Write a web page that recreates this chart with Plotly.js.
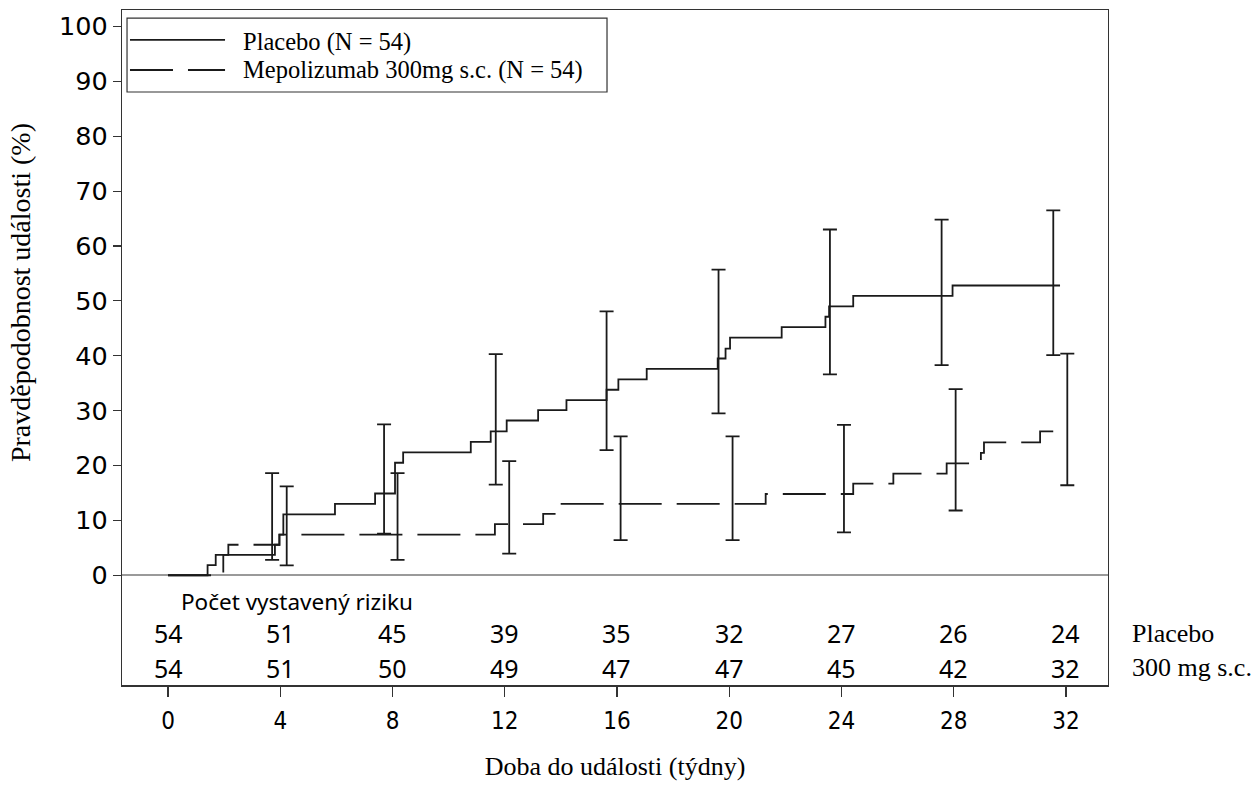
<!DOCTYPE html>
<html>
<head>
<meta charset="utf-8">
<script src="https://cdn.plot.ly/plotly-3.0.1.min.js"></script>
<style>html,body{margin:0;padding:0;background:#fff;}#chart{width:1253px;height:796px;}</style>
</head>
<body>
<div id="chart"></div>
<script>
// Kaplan-Meier style step data (weeks, %)
const placeboTime = [0, 1.41, 1.70, 3.81, 3.97, 4.11, 5.95, 7.38, 8.09, 8.38, 10.79, 11.50, 12.07, 13.19, 14.20, 15.63, 16.05, 17.06, 19.59, 19.87, 20.03, 21.87, 23.43, 23.56, 24.42, 27.96, 31.79];
const placeboProb = [0, 1.85, 3.7, 5.56, 7.4, 11.1, 13.0, 14.9, 20.5, 22.4, 24.3, 26.2, 28.2, 30.1, 31.9, 33.8, 35.7, 37.6, 39.5, 41.3, 43.3, 45.2, 47.1, 49.0, 50.9, 52.8, 52.8];
const mepoTime = [0, 1.97, 2.15, 3.97, 11.65, 13.37, 13.90, 21.30, 24.42, 25.85, 27.75, 28.97, 29.08, 31.08, 31.79];
const mepoProb = [0, 3.7, 5.56, 7.4, 9.3, 11.2, 13.0, 14.8, 16.7, 18.5, 20.4, 22.3, 24.2, 26.2, 26.2];

// Confidence intervals at visits
const placeboCiTime = [3.71, 7.70, 11.68, 15.63, 19.62, 23.59, 27.57, 31.55];
const placeboCiEst  = [3.7, 14.9, 26.2, 33.8, 39.5, 49.0, 50.9, 52.8];
const placeboCiLo   = [2.8, 7.6, 16.5, 22.8, 29.5, 36.6, 38.3, 40.1];
const placeboCiHi   = [18.6, 27.5, 40.3, 48.1, 55.7, 63.0, 64.8, 66.5];
const mepoCiTime = [4.23, 8.18, 12.16, 16.13, 20.12, 24.09, 28.07, 32.05];
const mepoCiEst  = [7.4, 7.4, 9.3, 13.0, 13.0, 14.8, 20.4, 26.2];
const mepoCiLo   = [1.8, 2.8, 3.95, 6.4, 6.4, 7.8, 11.8, 16.4];
const mepoCiHi   = [16.2, 18.6, 20.8, 25.3, 25.3, 27.4, 33.9, 40.4];

// Number at risk
const riskWeeks = [0, 4, 8, 12, 16, 20, 24, 28, 32];
const riskPlacebo = [54, 51, 45, 39, 35, 32, 27, 26, 24];
const riskMepo = [54, 51, 50, 49, 47, 47, 45, 42, 32];

const xTicks = [0, 4, 8, 12, 16, 20, 24, 28, 32];
const yTicks = [0, 10, 20, 30, 40, 50, 60, 70, 80, 90, 100];

const legendLabels = ['Placebo (N = 54)', 'Mepolizumab 300mg s.c. (N = 54)'];
const riskTitle = 'Počet vystavený riziku';
const riskRowLabels = ['Placebo', '300 mg s.c.'];
const xTitle = 'Doba do události (týdny)';
const yTitle = 'Pravděpodobnost události (%)';

const ink = '#1a1a1a';
const serif = 'Liberation Serif, Times New Roman, serif';
const sans = 'Noto Sans, Open Sans, sans-serif';
const dashPat = '43px,15px';

const traces = [
  {x: placeboTime, y: placeboProb, type: 'scatter', mode: 'lines', line: {shape: 'hv', color: ink, width: 1.8}, showlegend: false, hoverinfo: 'skip'},
  {x: mepoTime, y: mepoProb, type: 'scatter', mode: 'lines', line: {shape: 'hv', color: ink, width: 1.8, dash: dashPat}, showlegend: false, hoverinfo: 'skip'},
  {x: placeboCiTime, y: placeboCiEst, type: 'scatter', mode: 'markers', marker: {size: 0, opacity: 0}, showlegend: false, hoverinfo: 'skip',
   error_y: {type: 'data', symmetric: false, array: placeboCiHi.map((v, i) => v - placeboCiEst[i]), arrayminus: placeboCiEst.map((v, i) => v - placeboCiLo[i]), width: 7, thickness: 1.8, color: ink}},
  {x: mepoCiTime, y: mepoCiEst, type: 'scatter', mode: 'markers', marker: {size: 0, opacity: 0}, showlegend: false, hoverinfo: 'skip',
   error_y: {type: 'data', symmetric: false, array: mepoCiHi.map((v, i) => v - mepoCiEst[i]), arrayminus: mepoCiEst.map((v, i) => v - mepoCiLo[i]), width: 7, thickness: 1.8, color: ink}}
];

const annotations = [];
riskWeeks.forEach((w, i) => {
  annotations.push({x: w, y: -10.6, xref: 'x', yref: 'y', text: String(riskPlacebo[i]), showarrow: false, font: {family: sans, size: 25, color: '#000'}, xanchor: 'center', yanchor: 'middle'});
  annotations.push({x: w, y: -16.9, xref: 'x', yref: 'y', text: String(riskMepo[i]), showarrow: false, font: {family: sans, size: 25, color: '#000'}, xanchor: 'center', yanchor: 'middle'});
});
annotations.push({x: 0.40, y: -4.8, xref: 'x', yref: 'y', text: riskTitle, showarrow: false, font: {family: sans, size: 22.5, color: '#000'}, xanchor: 'left', yanchor: 'middle'});
annotations.push({x: 1.0223, y: -10.6, xref: 'paper', yref: 'y', text: riskRowLabels[0], showarrow: false, font: {family: serif, size: 26, color: '#000'}, xanchor: 'left', yanchor: 'middle'});
annotations.push({x: 1.0223, y: -16.9, xref: 'paper', yref: 'y', text: riskRowLabels[1], showarrow: false, font: {family: serif, size: 26, color: '#000'}, xanchor: 'left', yanchor: 'middle'});
// legend texts
annotations.push({x: 0.1207, y: 0.9526, xref: 'paper', yref: 'paper', text: legendLabels[0], showarrow: false, font: {family: serif, size: 24.5, color: '#000'}, xanchor: 'left', yanchor: 'middle'});
annotations.push({x: 0.1207, y: 0.9111, xref: 'paper', yref: 'paper', text: legendLabels[1], showarrow: false, font: {family: serif, size: 24.5, color: '#000'}, xanchor: 'left', yanchor: 'middle'});
// y axis title (centered on the 0-100 range as in the reference)
annotations.push({x: -0.1034, y: 0.5807, xref: 'paper', yref: 'paper', text: yTitle, showarrow: false, textangle: -90, font: {family: serif, size: 28, color: '#000'}, xanchor: 'center', yanchor: 'middle'});

const shapes = [
  {type: 'rect', xref: 'paper', yref: 'paper', x0: 0.0051, x1: 0.4919, y0: 0.8785, y1: 0.9881, line: {color: '#333', width: 1.2}, fillcolor: 'rgba(0,0,0,0)'},
  {type: 'line', xref: 'paper', yref: 'paper', x0: 0.0081, x1: 0.1045, y0: 0.9556, y1: 0.9556, line: {color: ink, width: 1.8}},
  {type: 'line', xref: 'paper', yref: 'paper', x0: 0.0081, x1: 0.1045, y0: 0.9111, y1: 0.9111, line: {color: ink, width: 1.8, dash: '43px,15px'}}
];

const layout = {
  width: 1253, height: 796,
  margin: {l: 122, r: 145, t: 10, b: 111},
  paper_bgcolor: '#fff', plot_bgcolor: '#fff',
  showlegend: false,
  xaxis: {
    range: [-1.64, 33.5], tickvals: xTicks, ticktext: xTicks.map(String),
    ticks: 'outside', ticklen: 10, tickwidth: 1.2, tickcolor: '#333',
    showline: true, mirror: true, linecolor: '#333', linewidth: 1.5,
    showgrid: false, zeroline: false, ticklabelstandoff: 4,
    tickfont: {family: 'Liberation Sans Narrow, DejaVu Sans Condensed, sans-serif', size: 24, color: '#000'},
    title: {text: xTitle, font: {family: serif, size: 26, color: '#000'}, standoff: 22},
    automargin: false
  },
  yaxis: {
    range: [-20, 103], tickvals: yTicks, ticktext: yTicks.map(String),
    ticks: 'outside', ticklen: 8, tickwidth: 1.2, tickcolor: '#333',
    showline: true, mirror: true, linecolor: '#333', linewidth: 1.2,
    showgrid: false, zeroline: true, zerolinecolor: '#9a9a9a', zerolinewidth: 1.5,
    tickfont: {family: 'DejaVu Sans, sans-serif', size: 25.5, color: '#000'},
    automargin: false
  },
  annotations: annotations,
  shapes: shapes
};

Plotly.newPlot('chart', traces, layout, {displayModeBar: false, staticPlot: true});
</script>
</body>
</html>
